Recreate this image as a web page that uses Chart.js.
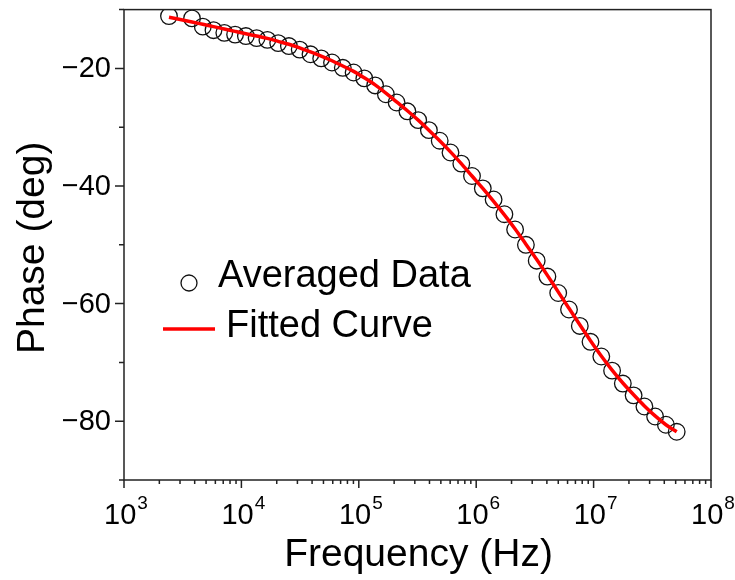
<!DOCTYPE html>
<html><head><meta charset="utf-8">
<script src="https://cdn.jsdelivr.net/npm/chart.js@4.4.1/dist/chart.umd.min.js"></script>
<style>html,body{margin:0;padding:0;background:#fff}canvas{display:block}</style>
</head><body>
<canvas id="c" width="735" height="580"></canvas>
<script>
// ---- data ----
const frequencyHz = [2416, 3795, 4690, 5787, 7150, 8838, 10920, 13480, 16650, 20580,
  25390, 31380, 38780, 47840, 59110, 73060, 90310, 111400, 137700, 170100,
  209900, 259400, 320600, 395500, 488800, 604000, 746700, 920900, 1138000, 1407000,
  1739000, 2145000, 2651000, 3276000, 4042000, 4995000, 6173000, 7629000, 9410000, 11630000,
  14370000, 17740000, 21920000, 27090000, 33420000, 41290000, 51030000];
const averagedPhase = [-11.1, -11.5, -12.9, -13.5, -13.95, -14.25, -14.5, -14.85, -15.15, -15.7,
  -16.2, -16.8, -17.6, -18.3, -19.0, -19.9, -20.7, -21.7, -22.9, -24.4,
  -25.8, -27.3, -28.8, -30.5, -32.3, -34.3, -36.2, -38.3, -40.4, -42.3,
  -44.8, -47.4, -50.0, -52.7, -55.4, -58.2, -61.0, -63.8, -66.5, -69.0,
  -71.4, -73.6, -75.6, -77.5, -79.2, -80.6, -81.8];
const fittedPhase = [-11.3, -12.1, -12.5, -12.9, -13.3, -13.7, -14.1, -14.5, -14.9, -15.4,
  -15.9, -16.5, -17.2, -17.9, -18.7, -19.6, -20.5, -21.6, -22.8, -24.2,
  -25.7, -27.2, -28.8, -30.5, -32.3, -34.2, -36.2, -38.3, -40.4, -42.6,
  -44.9, -47.3, -49.9, -52.5, -55.2, -58.0, -60.8, -63.6, -66.3, -68.9,
  -71.3, -73.5, -75.5, -77.4, -79.1, -80.6, -81.8];
const seriesLabels = ['Averaged Data', 'Fitted Curve'];
const xDecadeExponents = [3, 4, 5, 6, 7, 8];
const yMajorTicks = [-20, -40, -60, -80];
const yMinorTicks = [-10, -30, -50, -70, -90];
const xTitle = 'Frequency (Hz)';
const yTitle = 'Phase (deg)';

const FONT = '"Liberation Sans", Arial, sans-serif';
const INK = '#111';
const RED = '#ff0000';

const decorPlugin = {
  id: 'decor',
  afterDraw(chart) {
    const ctx = chart.ctx, a = chart.chartArea;
    const xs = chart.scales.x, ys = chart.scales.y;
    ctx.save();
    // frame
    ctx.strokeStyle = '#222';
    ctx.lineWidth = 1.5;
    ctx.strokeRect(a.left, a.top, a.right - a.left, a.bottom - a.top);
    // ticks
    ctx.beginPath();
    xDecadeExponents.forEach((e, i) => {
      const v = Math.pow(10, e);
      const p = xs.getPixelForValue(v);
      ctx.moveTo(p, a.bottom); ctx.lineTo(p, a.bottom + 8);
      if (i < xDecadeExponents.length - 1) {
        for (let m = 2; m <= 9; m++) {
          const q = xs.getPixelForValue(m * v);
          ctx.moveTo(q, a.bottom); ctx.lineTo(q, a.bottom + 4);
        }
      }
    });
    yMajorTicks.forEach(v => { const p = ys.getPixelForValue(v); ctx.moveTo(a.left, p); ctx.lineTo(a.left - 9, p); });
    yMinorTicks.forEach(v => { const p = ys.getPixelForValue(v); ctx.moveTo(a.left, p); ctx.lineTo(a.left - 5, p); });
    ctx.stroke();

    ctx.fillStyle = '#000';
    // y tick labels
    ctx.font = '29px ' + FONT;
    ctx.textAlign = 'right';
    ctx.textBaseline = 'middle';
    yMajorTicks.forEach(v => {
      ctx.fillText('\u2212' + Math.abs(v), a.left - 13, ys.getPixelForValue(v) + 1);
    });
    // x tick labels with superscript exponent
    ctx.textAlign = 'left';
    ctx.textBaseline = 'alphabetic';
    xDecadeExponents.forEach(e => {
      const p = xs.getPixelForValue(Math.pow(10, e));
      ctx.font = '29px ' + FONT;
      const w1 = ctx.measureText('10').width;
      ctx.font = '19px ' + FONT;
      const w2 = ctx.measureText(String(e)).width;
      const start = p - (w1 + w2 + 1) / 2 + 2;
      ctx.font = '29px ' + FONT;
      ctx.fillText('10', start, a.bottom + 44);
      ctx.font = '19px ' + FONT;
      ctx.fillText(String(e), start + w1 + 1, a.bottom + 29);
    });
    // axis titles
    ctx.font = '39px ' + FONT;
    ctx.textAlign = 'center';
    ctx.fillText(xTitle, (a.left + a.right) / 2 + 1, 566);
    ctx.save();
    ctx.translate(44, (a.top + a.bottom) / 2 + 3);
    ctx.rotate(-Math.PI / 2);
    ctx.fillText(yTitle, 0, 0);
    ctx.restore();

    // legend
    ctx.strokeStyle = INK;
    ctx.lineWidth = 1.3;
    ctx.beginPath();
    ctx.arc(189, 283, 8, 0, Math.PI * 2);
    ctx.stroke();
    ctx.strokeStyle = RED;
    ctx.lineWidth = 3.5;
    ctx.beginPath();
    ctx.moveTo(163, 329); ctx.lineTo(215, 329);
    ctx.stroke();
    ctx.font = '38px ' + FONT;
    ctx.textAlign = 'left';
    ctx.fillStyle = '#000';
    ctx.fillText(seriesLabels[0], 218, 287);
    ctx.fillText(seriesLabels[1], 226, 337);
    ctx.restore();
  }
};

new Chart(document.getElementById('c'), {
  type: 'line',
  data: {
    datasets: [
      {
        label: seriesLabels[0],
        data: frequencyHz.map((f, i) => ({ x: f, y: averagedPhase[i] })),
        showLine: false,
        pointRadius: 8.3,
        pointBorderWidth: 1.3,
        pointBorderColor: INK,
        pointBackgroundColor: 'rgba(0,0,0,0)',
        order: 2
      },
      {
        label: seriesLabels[1],
        data: frequencyHz.map((f, i) => ({ x: f, y: fittedPhase[i] })),
        borderColor: RED,
        borderWidth: 3.5,
        pointRadius: 0,
        cubicInterpolationMode: 'monotone',
        fill: false,
        order: 1
      }
    ]
  },
  options: {
    responsive: false,
    animation: false,
    events: [],
    layout: { padding: { top: 6, right: 24, left: 0, bottom: 0 } },
    plugins: { legend: { display: false }, tooltip: { enabled: false } },
    scales: {
      x: {
        type: 'logarithmic', min: 1e3, max: 1e8,
        ticks: { display: false }, grid: { display: false }, border: { display: false },
        afterFit(s) { s.height = 100; }
      },
      y: {
        type: 'linear', min: -90, max: -10,
        ticks: { display: false }, grid: { display: false }, border: { display: false },
        afterFit(s) { s.width = 124; }
      }
    }
  },
  plugins: [decorPlugin]
});
</script>
</body></html>
